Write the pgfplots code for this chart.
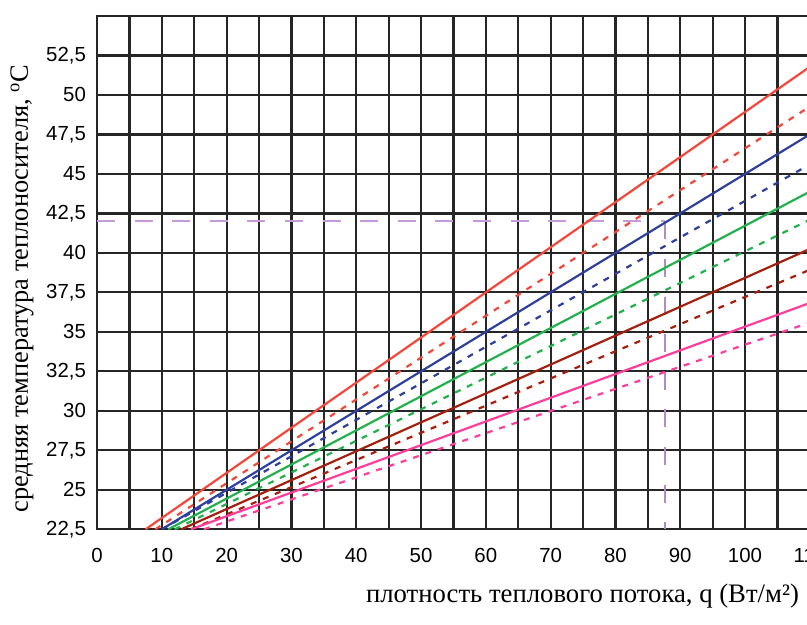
\documentclass[border=0pt]{standalone}
\usepackage{fontspec}
\setmainfont{Liberation Serif}
\newfontfamily\sansf{Liberation Sans}
\usepackage{pgfplots}
\pgfplotsset{compat=1.18}
\definecolor{cred}{HTML}{F4473A}
\definecolor{cblue}{HTML}{2E3F9E}
\definecolor{cgreen}{HTML}{22B14C}
\definecolor{cbrown}{HTML}{A3200F}
\definecolor{cpink}{HTML}{FF3D9A}
\definecolor{clav}{HTML}{C59AD8}
\begin{document}
\begin{tikzpicture}
\begin{axis}[
  at={(0,0)}, anchor=south west,
  scale only axis,
  width=356.4pt, height=256.65pt,
  xmin=0, xmax=110, ymin=22.5, ymax=55,
  xtick={0,10,...,110},
  minor xtick={5,15,...,105},
  ytick={22.5,25,...,52.5},
  grid=both,
  major grid style={black!85, line width=1.1pt},
  minor grid style={black!85, line width=1.1pt},
  axis line style={black!85, line width=1.1pt},
  major tick length=0pt, minor tick length=0pt,
  /pgf/number format/assume math mode=true,
  /pgf/number format/use comma,
  /pgf/number format/1000 sep={},
  tick label style={font=\sansf\fontsize{10.2}{12}\selectfont},
  xticklabel style={yshift=-6pt},
  yticklabel style={xshift=-2pt},
  every axis plot/.append style={line width=1.1pt},
]
\addplot[clav, line width=1pt, dash pattern=on 9pt off 9.8pt] coordinates {(0,42) (87.7,42)};
\addplot[clav!90!black, line width=1pt, dash pattern=on 9pt off 9.8pt] coordinates {(87.7,42) (87.7,22.5)};
% red
\addplot[cred] coordinates {(7.5,22.5) (110,51.78)};
\addplot[cred, dash pattern=on 3pt off 3.5pt] coordinates {(9,22.5) (110,49.27)};
% blue
\addplot[cblue] coordinates {(10,22.5) (110,47.5)};
\addplot[cblue, dash pattern=on 3pt off 3.5pt] coordinates {(10,22.5) (110,45.6)};
% green
\addplot[cgreen] coordinates {(11,22.5) (110,43.88)};
\addplot[cgreen, dash pattern=on 3pt off 3.5pt] coordinates {(12,22.5) (110,42.1)};
% brown
\addplot[cbrown] coordinates {(13,22.5) (110,40.25)};
\addplot[cbrown, dash pattern=on 3pt off 3.5pt] coordinates {(14.5,22.5) (110,38.93)};
% pink
\addplot[cpink] coordinates {(14.5,22.5) (110,36.83)};
\addplot[cpink, dash pattern=on 3pt off 3.5pt] coordinates {(16.5,22.5) (110,35.59)};
\end{axis}
\node[rotate=90, anchor=base, font=\fontsize{13.2}{15}\selectfont] at (-34.5pt,120.4pt) {средняя температура теплоносителя, \textsuperscript{o}C};
\node[anchor=base east, font=\fontsize{13.35}{15}\selectfont] at (354.5pt,-36.85pt) {плотность теплового потока, q (Вт/м²)};
\pgfresetboundingbox
\useasboundingbox (-48.5pt,-47.85pt) rectangle (355pt,264.65pt);
\end{tikzpicture}
\end{document}
